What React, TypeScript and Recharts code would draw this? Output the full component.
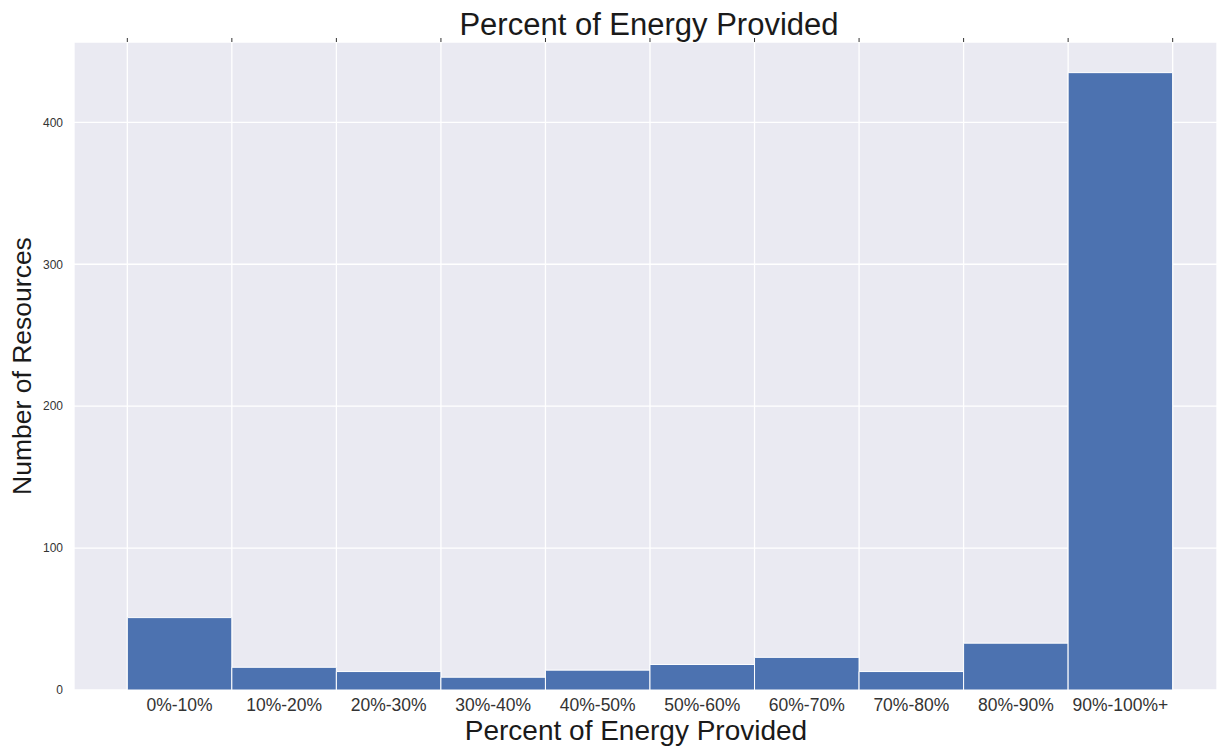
import { ComposedChart, Bar, XAxis, YAxis, CartesianGrid } from "recharts";

const binLabels = [
  "0%-10%", "10%-20%", "20%-30%", "30%-40%", "40%-50%",
  "50%-60%", "60%-70%", "70%-80%", "80%-90%", "90%-100%+",
];
const binCounts = [51, 16, 13, 9, 14, 18, 23, 13, 33, 435];
const binEdges = [0, 1, 2, 3, 4, 5, 6, 7, 8, 9, 10];
const yTicks = [0, 100, 200, 300, 400];

const data = binCounts.map((count, i) => ({ x: i + 0.5, count, label: binLabels[i] }));
const binCenters = data.map((d) => d.x);

const FONT = '"Liberation Sans", Arial, sans-serif';
const X_DOMAIN: [number, number] = [-0.51, 10.424];

export default function App() {
  return (
    <div style={{ position: "absolute", left: 0, top: 0, fontFamily: FONT }}>
      <ComposedChart
        width={1217}
        height={746}
        data={data}
        margin={{ top: 0, right: 0, bottom: 0, left: 0 }}
        barCategoryGap={0}
        style={{ fontFamily: FONT }}
      >
        <CartesianGrid
          xAxisId="top"
          fill="#eaeaf2"
          stroke="#ffffff"
          strokeWidth={1.3}
          fillOpacity={1}
        />
        {/* top axis: only tick marks at the bin edges, plus the title */}
        <XAxis
          xAxisId="top"
          orientation="top"
          type="number"
          dataKey="x"
          domain={X_DOMAIN}
          allowDataOverflow
          ticks={binEdges}
          height={42}
          axisLine={false}
          tickSize={4}
          tickLine={{ stroke: "#333333", strokeWidth: 1 }}
          tickFormatter={() => ""}
          label={{
            content: () => (
              <text
                x={649}
                y={35}
                textAnchor="middle"
                fontSize={31}
                fill="#1a1a1a"
                fontFamily={FONT}
              >
                Percent of Energy Provided
              </text>
            ),
          }}
        />
        <XAxis
          xAxisId="bottom"
          orientation="bottom"
          type="number"
          dataKey="x"
          domain={X_DOMAIN}
          allowDataOverflow
          ticks={binCenters}
          tickFormatter={(v: number) => binLabels[Math.floor(v)]}
          height={56}
          axisLine={false}
          tickLine={false}
          tickSize={6}
          tickMargin={3}
          interval={0}
          tick={{ fontSize: 17.5, fill: "#333333", fontFamily: FONT }}
          label={{
            content: () => (
              <text
                x={636}
                y={740}
                textAnchor="middle"
                fontSize={28}
                fill="#1a1a1a"
                fontFamily={FONT}
              >
                Percent of Energy Provided
              </text>
            ),
          }}
        />
        <YAxis
          type="number"
          domain={[0, 456.6]}
          allowDataOverflow
          ticks={yTicks}
          width={74}
          axisLine={false}
          tickLine={false}
          tickSize={6}
          tickMargin={5}
          tick={{ fontSize: 12, fill: "#333333", fontFamily: FONT }}
          label={{
            content: () => (
              <text
                x={22}
                y={366}
                textAnchor="middle"
                dominantBaseline="central"
                transform="rotate(-90 22 366)"
                fontSize={26.5}
                fill="#1a1a1a"
                fontFamily={FONT}
              >
                Number of Resources
              </text>
            ),
          }}
        />
        <Bar
          xAxisId="bottom"
          dataKey="count"
          fill="#4c72b0"
          stroke="#ffffff"
          strokeWidth={1}
          barSize={104.5}
          isAnimationActive={false}
        />
      </ComposedChart>
    </div>
  );
}
